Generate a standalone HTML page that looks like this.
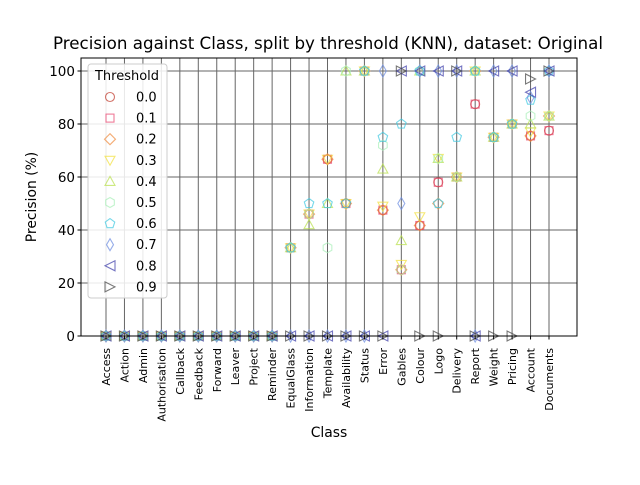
<!DOCTYPE html>
<html><head><meta charset="utf-8"><style>
body{margin:0;background:#fff;}
svg text{font-family:"DejaVu Sans","Liberation Sans",sans-serif;}
</style></head><body>
<svg id="c" width="640" height="480" xmlns="http://www.w3.org/2000/svg"></svg>
<script>
const categories=["Access","Action","Admin","Authorisation","Callback","Feedback","Forward","Leaver","Project","Reminder","EqualGlass","Information","Template","Availability","Status","Error","Gables","Colour","Logo","Delivery","Report","Weight","Pricing","Account","Documents"];
const thresholds=["0.0","0.1","0.2","0.3","0.4","0.5","0.6","0.7","0.8","0.9"];
const yTicks=[0,20,40,60,80,100];
const s00=[0,0,0,0,0,0,0,0,0,0,33.3,46,66.7,50,100,47.5,25,41.7,58,60,87.5,75,80,75.5,77.5];
const s01=[0,0,0,0,0,0,0,0,0,0,33.3,46,66.7,50,100,47.5,25,41.7,58,60,87.5,75,80,75.5,77.5];
const s02=[0,0,0,0,0,0,0,0,0,0,33.3,46,66.7,50,100,47.5,25,41.7,50,60,100,75,80,75.5,83];
const s03=[0,0,0,0,0,0,0,0,0,0,33.3,46,66.7,50,100,49,27,45,67,60,100,75,80,77,83];
const s04=[0,0,0,0,0,0,0,0,0,0,33.3,42,50,100,100,63,36,100,67,60,100,75,80,80,83];
const s05=[0,0,0,0,0,0,0,0,0,0,33.3,46,33.3,100,100,72,25,100,67,60,100,75,80,83,83];
const s06=[0,0,0,0,0,0,0,0,0,0,33.3,50,50,50,100,75,80,100,50,75,100,75,80,89,100];
const s07=[0,0,0,0,0,0,0,0,0,0,0,0,0,0,0,100,50,100,100,100,0,100,100,90,100];
const s08=[0,0,0,0,0,0,0,0,0,0,0,0,0,0,0,0,100,100,100,100,0,100,100,92,100];
const s09=[0,0,0,0,0,0,0,0,0,0,0,0,0,0,0,0,100,0,0,100,0,0,0,97,100];
const series=[s00,s01,s02,s03,s04,s05,s06,s07,s08,s09];
const colors=["#c0392b","#e8436e","#f08a3c","#f2e03a","#b8e04a","#a8f0b8","#3cc8e0","#6a8ae0","#3a3aa8","#404040"];
const markers=["o","s","D","v","^","h","p","d","<",">"];
const L=81,R=577,T=58,B=336;
const NS="http://www.w3.org/2000/svg";
const svg=document.getElementById('c');
function X(i){return 106+i*(549-106)/(categories.length-1);}
function Y(v){return B-(v/100)*(B-71);}
function el(t,a,p){const e=document.createElementNS(NS,t);for(const k in a)e.setAttribute(k,a[k]);(p||svg).appendChild(e);return e;}
function marker(m,x,y,c,g){
 const r=4.5;let e;
 const st={fill:"none",stroke:c,"stroke-width":1.1,"stroke-opacity":0.7};
 if(m=="o"){e=el("circle",Object.assign({cx:x,cy:y,r:r},st),g);}
 else if(m=="s"){e=el("rect",Object.assign({x:x-4,y:y-4,width:8,height:8},st),g);}
 else {let p;
  if(m=="D")p=[[0,-5.5],[5.5,0],[0,5.5],[-5.5,0]];
  else if(m=="d")p=[[0,-6],[3.5,0],[0,6],[-3.5,0]];
  else if(m=="v")p=[[-5,-4],[5,-4],[0,5]];
  else if(m=="^")p=[[-5,4],[5,4],[0,-5]];
  else if(m=="<")p=[[5,-5],[5,5],[-5,0]];
  else if(m==">")p=[[-5,-5],[-5,5],[5,0]];
  else if(m=="h"){p=[];for(let k=0;k<6;k++){const a=Math.PI/3*k+Math.PI/6;p.push([5*Math.cos(a),5*Math.sin(a)]);}}
  else {p=[];for(let k=0;k<5;k++){const a=-Math.PI/2+2*Math.PI/5*k;p.push([5*Math.cos(a),5*Math.sin(a)]);}}
  e=el("polygon",Object.assign({points:p.map(q=>(x+q[0])+","+(y+q[1])).join(" ")},st),g);}
 return e;
}
const grid=el("g",{});


categories.forEach((c,i)=>{el("line",{x1:X(i),x2:X(i),y1:T,y2:B,stroke:"#666","stroke-width":1},grid);});
yTicks.forEach(v=>{el("line",{x1:L,x2:R,y1:Y(v),y2:Y(v),stroke:"#666","stroke-width":1},grid);});
series.forEach((s,si)=>{
 const g=el("g",{});
 
 
 s.forEach((v,i)=>{const m=marker(markers[si],X(i),Y(v),colors[si],g);
  
  });
});
const ax=el("rect",{x:L,y:T,width:R-L,height:B-T,fill:"none",stroke:"#000","stroke-width":1});


yTicks.forEach(v=>{el("line",{x1:L-3.5,x2:L,y1:Y(v),y2:Y(v),stroke:"#000"});
 const t=el("text",{x:L-6,y:Y(v)+4.8,"text-anchor":"end","font-size":13.5});t.textContent=v;
 
 });
categories.forEach((c,i)=>{el("line",{x1:X(i),x2:X(i),y1:B,y2:B+3.5,stroke:"#000"});
 const t=el("text",{x:0,y:0,"text-anchor":"end","font-size":11,transform:"translate("+(X(i)+4)+","+(B+12)+") rotate(-90)"});t.textContent=c;
 
 });
let t=el("text",{x:328,y:49,"text-anchor":"middle","font-size":16.7});t.textContent="Precision against Class, split by threshold (KNN), dataset: Original";


t=el("text",{x:0,y:0,"text-anchor":"middle","font-size":13.9,transform:"translate(36,197) rotate(-90)"});t.textContent="Precision (%)";


t=el("text",{x:329,y:437,"text-anchor":"middle","font-size":13.9});t.textContent="Class";


const lg=el("g",{});


el("rect",{x:88,y:64,width:79,height:234,rx:3,fill:"#fff","fill-opacity":0.85,stroke:"#ccc"},lg);
t=el("text",{x:127,y:80,"text-anchor":"middle","font-size":13},lg);t.textContent="Threshold";
thresholds.forEach((th,si)=>{const y=97+si*21.1;
 const e=el("g",{},lg);
 
 
 marker(markers[si],110,y,colors[si],e);
 const tt=el("text",{x:136,y:y+4.5,"font-size":13},e);tt.textContent=th;});
</script>
</body></html>
